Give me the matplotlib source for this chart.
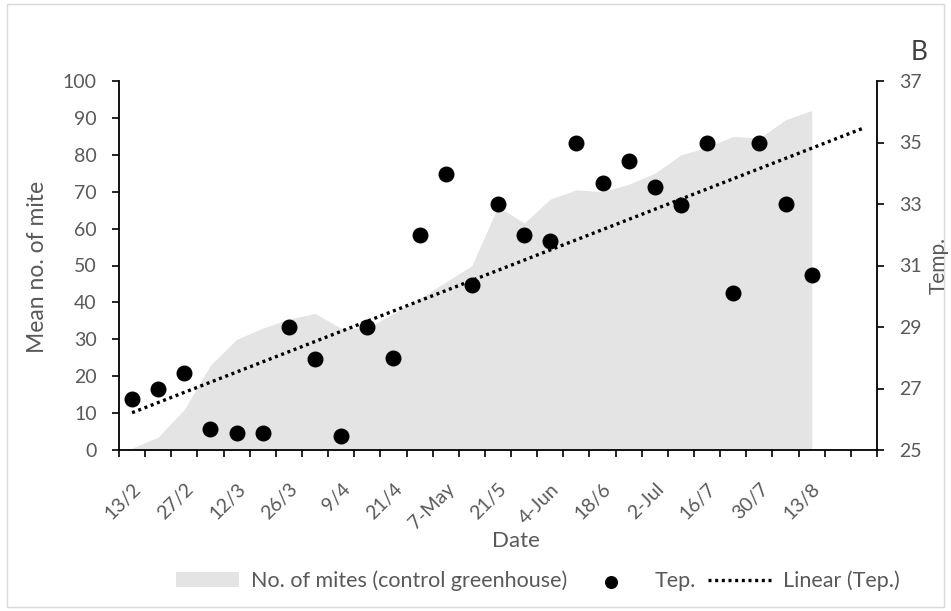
import numpy as np
import matplotlib.pyplot as plt
from matplotlib.patches import Rectangle

plt.rcParams['font.family'] = ['Lato', 'DejaVu Sans']

# weekly sampling dates (every other one is labelled on the axis)
dates = ['13/2', '20/2', '27/2', '5/3', '12/3', '19/3', '26/3', '2/4', '9/4',
         '14/4', '21/4', '30/4', '7-May', '14/5', '21/5', '28/5', '4-Jun',
         '11/6', '18/6', '25/6', '2-Jul', '9/7', '16/7', '23/7', '30/7',
         '6/8', '13/8']

# mean no. of mites, control greenhouse (left axis)
mites = [0.5, 3.5, 11, 23, 30, 33, 35.5, 37, 33, 33, 37, 41, 45.5, 50,
         66, 61.5, 68, 70.5, 70, 72, 75, 80, 82, 85, 84.5, 89.5, 92]

# temperature (right axis)
temp = [26.65, 27.0, 27.5, 25.67, 25.54, 25.54, 29.0, 27.96, 25.47, 29.0,
        28.0, 32.0, 33.96, 30.37, 33.0, 32.0, 31.8, 35.0, 33.69, 34.41,
        33.56, 32.96, 35.0, 30.1, 35.0, 33.0, 30.68]

n = len(dates)
x = np.arange(n)
n_axis = n + 2  # trendline forecast 2 periods forward

grey = '#595959'

fig = plt.figure(figsize=(9.51, 6.11), dpi=100)
fig.patches.append(Rectangle((0.007, 0.007), 0.986, 0.986, transform=fig.transFigure,
                             fill=False, edgecolor='#d9d9d9', linewidth=1))

ax = fig.add_axes([119 / 951, 1 - 450 / 611, (877 - 119) / 951, (450 - 81) / 611])
ax.fill_between(x, mites, 0, color='#e4e4e4', linewidth=0,
                label='No. of mites (control greenhouse)')
ax.set_xlim(-0.5, n_axis - 0.5)
ax.set_ylim(0, 100)
ax.set_yticks(np.arange(0, 101, 10))

ax2 = ax.twinx()
ax2.scatter(x, temp, s=110, color='black', zorder=3, label='Tep.')
coef = np.polyfit(x, temp, 1)
xt = np.arange(n_axis)
ax2.plot(xt, np.polyval(coef, xt), color='black', linestyle=(0, (0.9, 1.1)),
         linewidth=2.4, label='Linear (Tep.)')
ax2.set_ylim(25, 37)
ax2.set_yticks(np.arange(25, 38, 2))

# category axis: ticks between categories, labels on every other category
ax.set_xticks(np.arange(n_axis + 1) - 0.5)
ax.set_xticklabels([])
ax.set_xticks(x[::2], minor=True)
ax.set_xticklabels(dates[::2], minor=True, rotation=45, ha='right',
                   rotation_mode='anchor', color=grey, fontsize=14)
ax.tick_params(axis='x', which='minor', length=0, pad=22)
ax.tick_params(axis='x', which='major', length=5, width=1.2, direction='out')
ax.tick_params(axis='y', length=5, width=1.2, labelcolor=grey, labelsize=14, pad=11)
ax2.tick_params(axis='y', length=5, width=1.2, labelcolor=grey, labelsize=14, pad=11)

for a in (ax, ax2):
    a.spines['top'].set_visible(False)
    for s in ('left', 'right', 'bottom'):
        a.spines[s].set_linewidth(1.3)
ax.spines['right'].set_visible(False)
ax2.spines['left'].set_visible(False)
ax2.spines['bottom'].set_visible(False)

fig.text(38 / 951, 1 - 267 / 611, 'Mean no. of mite', rotation=90, color=grey,
         fontsize=16.5, ha='center', va='center')
fig.text(939 / 951, 1 - 265 / 611, 'Temp.', rotation=90, color=grey, fontsize=15,
         ha='center', va='center')
fig.text(516 / 951, 1 - 541 / 611, 'Date', color=grey, fontsize=16,
         ha='center', va='center')
fig.text(919 / 951, 1 - 53 / 611, 'B', color='#404040', fontsize=19,
         ha='center', va='center')

h1, l1 = ax.get_legend_handles_labels()
h2, l2 = ax2.get_legend_handles_labels()
fig.legend(h1 + h2, l1 + l2, loc='center', bbox_to_anchor=(538 / 951, 1 - 581 / 611),
           ncol=3, frameon=False, fontsize=15.5, labelcolor=grey, handlelength=2.9,
           columnspacing=0.6, handletextpad=0.55, markerscale=0.8)

fig.savefig('out.png', dpi=100)
